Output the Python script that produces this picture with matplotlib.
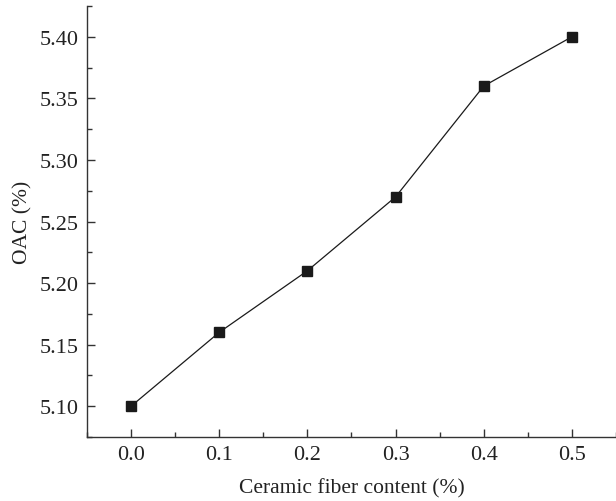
import matplotlib.pyplot as plt
from matplotlib.ticker import MultipleLocator

fiber = [0.0, 0.1, 0.2, 0.3, 0.4, 0.5]
oac = [5.10, 5.16, 5.21, 5.27, 5.36, 5.40]

plt.rcParams['font.family'] = ['Liberation Serif', 'DejaVu Serif']

fig = plt.figure(figsize=(6.16, 5.02), dpi=100)
ax = fig.add_axes([0.1412, 0.1275, 0.8588, 0.8585])

ax.plot(fiber, oac, color='#1a1a1a', lw=0.9, marker='s', ms=6.5, mfc='#1a1a1a', mec='#1a1a1a')

ax.set_xlim(-0.05, 0.55)
ax.set_ylim(5.075, 5.425)
ax.xaxis.set_major_locator(MultipleLocator(0.1))
ax.xaxis.set_minor_locator(MultipleLocator(0.05))
ax.yaxis.set_major_locator(MultipleLocator(0.05))
ax.yaxis.set_minor_locator(MultipleLocator(0.025))
ax.xaxis.set_major_formatter(lambda v, p: f'{v:.1f}')
ax.yaxis.set_major_formatter(lambda v, p: f'{v:.2f}')

for s in ['top', 'right']:
    ax.spines[s].set_visible(False)
for s in ['left', 'bottom']:
    ax.spines[s].set_linewidth(1.0)
    ax.spines[s].set_color('#333333')

ax.tick_params(which='major', direction='in', length=6, width=1, labelsize=16, colors='#333333', labelcolor='#222222')
ax.tick_params(which='minor', direction='in', length=3.5, width=1, colors='#333333')
ax.tick_params(axis='x', pad=6)
ax.tick_params(axis='y', pad=6)

ax.set_xlabel('Ceramic fiber content (%)', fontsize=15.5, color='#222222', labelpad=10)
ax.set_ylabel('OAC (%)', fontsize=15.5, color='#222222', labelpad=5)

fig.savefig('out.png', dpi=100)
